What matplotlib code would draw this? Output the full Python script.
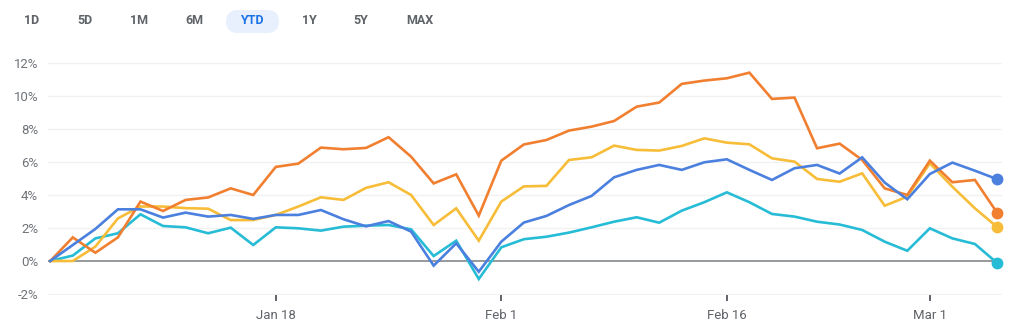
import matplotlib.pyplot as plt
from matplotlib.patches import FancyBboxPatch

plt.rcParams['font.family'] = ['Roboto', 'DejaVu Sans']

# daily % change since start of year, one value per trading day
blue = [0, 0.97, 1.94, 3.13, 3.13, 2.63, 2.93, 2.69, 2.79, 2.55, 2.79, 2.79, 3.09, 2.53, 2.10,
        2.42, 1.78, -0.28, 1.07, -0.65, 1.17, 2.33, 2.73, 3.39, 3.94, 5.07, 5.52, 5.82, 5.52,
        5.98, 6.16, 5.52, 4.91, 5.62, 5.82, 5.30, 6.28, 4.75, 3.74, 5.27, 5.96, 5.47, 4.95]
orange = [0, 1.43, 0.5, 1.43, 3.6, 3.03, 3.7, 3.85, 4.4, 4.0, 5.7, 5.9, 6.87, 6.77, 6.85,
          7.5, 6.32, 4.7, 5.25, 2.75, 6.08, 7.06, 7.33, 7.9, 8.14, 8.48, 9.35, 9.6, 10.73,
          10.93, 11.07, 11.41, 9.82, 9.9, 6.83, 7.11, 6.12, 4.4, 4.0, 6.08, 4.77, 4.91, 2.89]
yellow = [0, 0, 0.87, 2.58, 3.3, 3.3, 3.2, 3.17, 2.48, 2.48, 2.79, 3.3, 3.86, 3.7, 4.43,
          4.77, 4.0, 2.18, 3.19, 1.23, 3.6, 4.52, 4.55, 6.12, 6.28, 6.99, 6.73, 6.69, 6.97,
          7.43, 7.17, 7.07, 6.22, 6.02, 4.97, 4.8, 5.31, 3.35, 3.9, 5.92, 4.5, 3.19, 2.04]
cyan = [0, 0.33, 1.37, 1.68, 2.83, 2.12, 2.04, 1.68, 2.02, 0.97, 2.04, 1.98, 1.84, 2.08, 2.14,
        2.18, 1.92, 0.3, 1.23, -1.09, 0.83, 1.32, 1.47, 1.72, 2.04, 2.38, 2.65, 2.32, 3.05,
        3.56, 4.16, 3.56, 2.85, 2.69, 2.38, 2.21, 1.88, 1.17, 0.62, 1.98, 1.37, 1.03, -0.14]

tick_pos = [10, 20, 30, 39]
tick_labels = ['Jan 18', 'Feb 1', 'Feb 16', 'Mar 1']
y_ticks = [-2, 0, 2, 4, 6, 8, 10, 12]
ranges = ['1D', '5D', '1M', '6M', 'YTD', '1Y', '5Y', 'MAX']
range_x = [32, 85, 139, 194, 252, 309, 361, 420]

fig = plt.figure(figsize=(10.24, 3.33), dpi=100)
ax = fig.add_axes([48 / 1024, 1 - 295 / 333, 954 / 1024, 240 / 333])

x = list(range(len(blue)))
series = [(cyan, '#27bcd6'), (yellow, '#f7bd38'), (orange, '#f17f30'), (blue, '#4b80df')]
for vals, col in series:
    ax.plot(x, vals, color=col, lw=1.9, solid_joinstyle='miter', zorder=3)
    ax.plot(x[-1], vals[-1], 'o', color=col, ms=7.5, clip_on=False, zorder=4)

ax.axhline(0, color='#7a7e83', lw=1.1, zorder=2)
for yv in y_ticks:
    if yv != 0:
        ax.axhline(yv, color='#f1f1f1', lw=1.0, zorder=1)

ax.set_xlim(-0.1, 42.2)
ax.set_ylim(-2.06, 12.48)
for s in ax.spines.values():
    s.set_visible(False)

ax.set_yticks(y_ticks)
ax.set_yticklabels([f'{v}%' for v in y_ticks])
ax.tick_params(axis='y', length=0, pad=7, labelsize=9.5, labelcolor='#6f7378')
ax.set_xticks(tick_pos)
ax.set_xticklabels(tick_labels)
ax.tick_params(axis='x', direction='out', length=4, width=1.4, color='#5f6368',
               pad=6, labelsize=9.5, labelcolor='#60646a')

# range selector row
pill = FancyBboxPatch((2.26, 3.0), 0.53, 0.23, boxstyle='round,pad=0,rounding_size=0.115',
                      transform=fig.dpi_scale_trans, fc='#e8f0fe', ec='none')
fig.patches.append(pill)
for lab, px in zip(ranges, range_x):
    col = '#1a73e8' if lab == 'YTD' else '#5f6368'
    fig.text(px / 1024, 1 - 21 / 333, lab, ha='center', va='center', fontsize=9,
             fontweight='bold', color=col)

fig.savefig('out.png', dpi=100)
